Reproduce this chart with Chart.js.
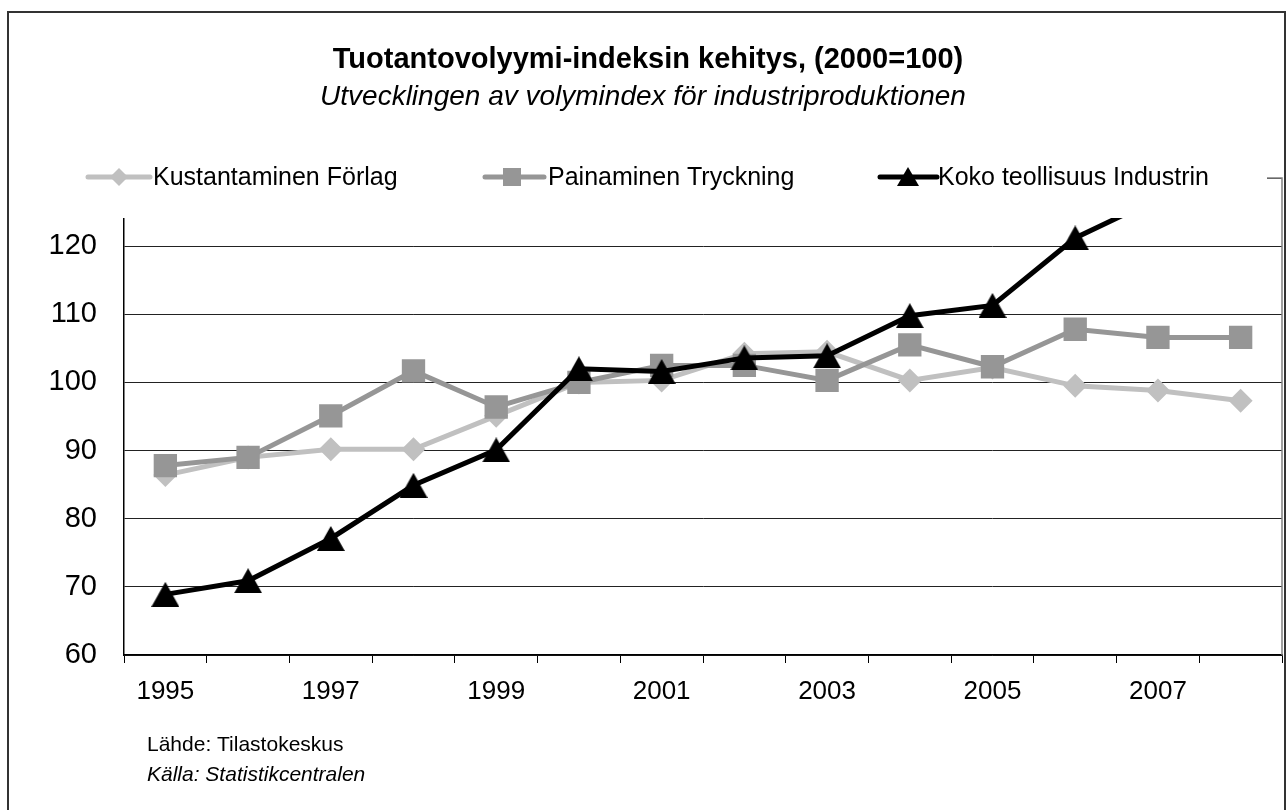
<!DOCTYPE html>
<html lang="fi">
<head>
  <meta charset="UTF-8">
  <title>Tuotantovolyymi-indeksin kehitys</title>
  <script src="https://cdn.jsdelivr.net/npm/chart.js"></script>
  <style>
    html, body {
      margin: 0;
      padding: 0;
      background: #fff;
    }
    #myChart {
      display: block;
    }
  </style>
</head>
<body>
  <canvas id="myChart" width="1287" height="810"></canvas>

  <script>
    // data (2000 = 100)
    const years = ['1995', '1996', '1997', '1998', '1999', '2000', '2001', '2002', '2003', '2004', '2005', '2006', '2007', '2008'];
    const forlag = [86.4, 89.0, 90.2, 90.2, 95.1, 100.0, 100.3, 104.2, 104.5, 100.3, 102.2, 99.5, 98.8, 97.3];
    const tryckning = [87.8, 89.0, 95.1, 101.7, 96.4, 100.0, 102.5, 102.5, 100.3, 105.5, 102.3, 107.8, 106.6, 106.6];
    const industrin = [68.9, 70.9, 77.1, 84.9, 90.1, 102.0, 101.6, 103.6, 103.9, 109.8, 111.3, 121.2, 127.0, 126.5];

    const seriesNames = ['Kustantaminen Förlag', 'Painaminen Tryckning', 'Koko teollisuus Industrin'];
    const yMin = 60;
    const yMax = 130;
    const yStep = 10;

    const titleText = 'Tuotantovolyymi-indeksin kehitys, (2000=100)';
    const subtitleText = 'Utvecklingen av volymindex för industriproduktionen';
    const sourceFi = 'Lähde: Tilastokeskus';
    const sourceSv = 'Källa: Statistikcentralen';

    const FONT = '"Liberation Sans", Arial, sans-serif';

    // triangle marker centred on its bounding box, like the spreadsheet one
    function triangleMarker(w, h, color) {
      const c = document.createElement('canvas');
      c.width = w;
      c.height = h;
      const g = c.getContext('2d');
      g.fillStyle = color;
      g.beginPath();
      g.moveTo(w / 2, 0);
      g.lineTo(w, h);
      g.lineTo(0, h);
      g.closePath();
      g.fill();
      return c;
    }

    const bigTriangle = triangleMarker(28, 25, '#000');

    function drawLegendMarker(ctx, style, x, y, color) {
      ctx.fillStyle = color;
      ctx.beginPath();
      if (style === 'diamond') {
        ctx.moveTo(x, y - 9);
        ctx.lineTo(x + 9, y);
        ctx.lineTo(x, y + 9);
        ctx.lineTo(x - 9, y);
      } else if (style === 'square') {
        ctx.rect(x - 9, y - 9, 18, 18);
      } else {
        ctx.moveTo(x, y - 10);
        ctx.lineTo(x + 11, y + 9);
        ctx.lineTo(x - 11, y + 9);
      }
      ctx.closePath();
      ctx.fill();
    }

    const decorations = {
      id: 'decorations',
      beforeDatasetsDraw(chart) {
        const { ctx, chartArea } = chart;
        ctx.save();
        ctx.strokeStyle = '#808080';
        ctx.lineWidth = 1.5;
        ctx.beginPath();
        ctx.moveTo(chartArea.left, chartArea.top);
        ctx.lineTo(chartArea.right, chartArea.top);
        ctx.lineTo(chartArea.right, chartArea.bottom);
        ctx.stroke();
        ctx.restore();
      },
      afterDatasetsDraw(chart) {
        const ctx = chart.ctx;
        ctx.save();
        // legend box sits on top of the plot area
        ctx.fillStyle = '#fff';
        ctx.fillRect(46, 135, 1221, 83);

        const legendItems = [
          { x1: 88, x2: 150, mid: 119, style: 'diamond', color: '#c0c0c0', textX: 153 },
          { x1: 485, x2: 544, mid: 512, style: 'square', color: '#969696', textX: 548 },
          { x1: 880, x2: 937, mid: 908, style: 'triangle', color: '#000', textX: 938 }
        ];
        const ly = 177;
        legendItems.forEach((item, i) => {
          ctx.strokeStyle = item.color;
          ctx.lineWidth = 5;
          ctx.lineCap = 'round';
          ctx.beginPath();
          ctx.moveTo(item.x1, ly);
          ctx.lineTo(item.x2, ly);
          ctx.stroke();
          drawLegendMarker(ctx, item.style, item.mid, ly, item.color);
          ctx.fillStyle = '#000';
          ctx.font = '25px ' + FONT;
          ctx.textAlign = 'left';
          ctx.textBaseline = 'middle';
          ctx.fillText(seriesNames[i], item.textX, ly + 1);
        });
        ctx.restore();
      },
      afterDraw(chart) {
        const ctx = chart.ctx;
        ctx.save();
        ctx.fillStyle = '#000';
        ctx.textBaseline = 'middle';
        ctx.textAlign = 'center';
        ctx.font = 'bold 29px ' + FONT;
        ctx.fillText(titleText, 648, 60);
        ctx.font = 'italic 28px ' + FONT;
        ctx.fillText(subtitleText, 643, 97);

        ctx.textAlign = 'left';
        ctx.font = '21px ' + FONT;
        ctx.fillText(sourceFi, 147, 745);
        ctx.font = 'italic 21px ' + FONT;
        ctx.fillText(sourceSv, 147, 775);

        // outer frame
        ctx.strokeStyle = '#333';
        ctx.lineWidth = 2;
        ctx.strokeRect(8, 12, 1277, 820);
        ctx.restore();
      }
    };

    const ctx = document.getElementById('myChart').getContext('2d');

    const myChart = new Chart(ctx, {
      type: 'line',
      data: {
        labels: years,
        datasets: [
          {
            label: seriesNames[0],
            data: forlag,
            borderColor: '#c0c0c0',
            backgroundColor: '#c0c0c0',
            borderWidth: 5,
            pointStyle: 'rectRot',
            pointRadius: 12,
            pointBorderWidth: 0,
            tension: 0,
            order: 2
          },
          {
            label: seriesNames[1],
            data: tryckning,
            borderColor: '#969696',
            backgroundColor: '#969696',
            borderWidth: 5,
            pointStyle: 'rect',
            pointRadius: 16.5,
            pointBorderWidth: 0,
            tension: 0,
            order: 1
          },
          {
            label: seriesNames[2],
            data: industrin,
            borderColor: '#000',
            backgroundColor: '#000',
            borderWidth: 5,
            pointStyle: bigTriangle,
            pointRadius: 14,
            tension: 0,
            order: 0
          }
        ]
      },
      options: {
        responsive: false,
        animation: false,
        events: [],
        layout: {
          autoPadding: false,
          padding: { top: 178, right: 5, left: 0, bottom: 0 }
        },
        plugins: {
          legend: { display: false },
          title: { display: false },
          tooltip: { enabled: false }
        },
        scales: {
          x: {
            type: 'category',
            offset: true,
            afterFit: function(scale) {
              scale.height = 155;
              scale.paddingLeft = 0;
              scale.paddingRight = 0;
            },
            grid: {
              offset: true,
              drawOnChartArea: false,
              drawTicks: true,
              tickLength: 8,
              color: '#000',
              lineWidth: 1
            },
            border: {
              display: true,
              color: '#000',
              width: 1.5
            },
            ticks: {
              autoSkip: false,
              maxRotation: 0,
              padding: 13,
              color: '#000',
              font: { family: FONT, size: 26 },
              callback: function(value, index) {
                return index % 2 === 0 ? years[index] : '';
              }
            }
          },
          y: {
            min: yMin,
            max: yMax,
            afterFit: function(scale) {
              scale.width = 124;
              scale.paddingTop = 0;
              scale.paddingBottom = 0;
            },
            grid: {
              drawTicks: false,
              color: '#222',
              lineWidth: 1
            },
            border: {
              display: true,
              color: '#000',
              width: 1.5
            },
            ticks: {
              stepSize: yStep,
              padding: 27,
              color: '#000',
              font: { family: FONT, size: 29 },
              callback: function(value) {
                return value >= yMax ? '' : value;
              }
            }
          }
        }
      },
      plugins: [decorations]
    });
  </script>
</body>
</html>
